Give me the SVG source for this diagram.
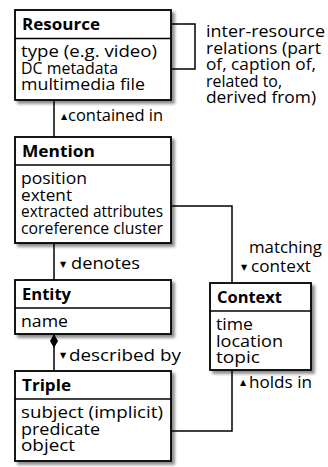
<svg xmlns="http://www.w3.org/2000/svg" width="328" height="467" viewBox="0 0 328 467">
<defs>
<filter id="sh" x="-10%" y="-10%" width="130%" height="130%">
<feDropShadow dx="3" dy="3" stdDeviation="1.8" flood-color="#000" flood-opacity="0.45"/>
</filter>
<style>
.box{fill:#fff;stroke:#000;stroke-width:1.8}
.sep{stroke:#000;stroke-width:1.5}
.t{font-family:'Open Sans','Noto Sans',sans-serif;font-size:15.5px;fill:#000}
.b{font-weight:bold}
.tri{font-family:'DejaVu Sans',sans-serif;font-size:8px}
.conn{fill:none;stroke:#000;stroke-width:1.5}
</style>
</defs>
<rect width="328" height="467" fill="#fff"/>
<g id="connectors">
<path class="conn" d="M171,24 H195 V69 H171"/>
<path class="conn" d="M54,100 V137"/>
<path class="conn" d="M54,243 V280"/>
<path class="conn" d="M54,334 V371"/>
<polygon points="54,334 58,341 54,348 50,341" fill="#000"/>
<path class="conn" d="M171,206 H232 V283"/>
<path class="conn" d="M232,370 V431 H171"/>
<text class="t"><tspan class="tri" x="61" y="119">▲</tspan><tspan x="68" y="121" textLength="95" lengthAdjust="spacingAndGlyphs">contained in</tspan></text>
<text class="t"><tspan class="tri" x="60" y="267">▼</tspan><tspan x="71" y="269" textLength="69" lengthAdjust="spacingAndGlyphs">denotes</tspan></text>
<text class="t"><tspan class="tri" x="60" y="358">▼</tspan><tspan x="69" y="361" textLength="112" lengthAdjust="spacingAndGlyphs">described by</tspan></text>
<text class="t" x="249" y="253" textLength="73" lengthAdjust="spacingAndGlyphs">matching</text>
<text class="t"><tspan class="tri" x="241" y="270">▼</tspan><tspan x="251" y="272" textLength="60" lengthAdjust="spacingAndGlyphs">context</tspan></text>
<text class="t"><tspan class="tri" x="240" y="385">▲</tspan><tspan x="249" y="388" textLength="63" lengthAdjust="spacingAndGlyphs">holds in</tspan></text>
<g class="t">
<text x="206" y="37" textLength="119" lengthAdjust="spacingAndGlyphs">inter-resource</text>
<text x="206" y="53.5" textLength="115" lengthAdjust="spacingAndGlyphs">relations (part</text>
<text x="206" y="70" textLength="110" lengthAdjust="spacingAndGlyphs">of, caption of,</text>
<text x="206" y="86.5" textLength="76" lengthAdjust="spacingAndGlyphs">related to,</text>
<text x="206" y="103" textLength="110" lengthAdjust="spacingAndGlyphs">derived from)</text>
</g>
</g>
<g id="resource">
<rect class="box" x="15" y="10" width="156" height="90" filter="url(#sh)"/>
<line class="sep" x1="15" y1="38.5" x2="171" y2="38.5"/>
<text class="t b" x="22" y="30" textLength="78" lengthAdjust="spacingAndGlyphs">Resource</text>
<text class="t" x="21" y="57" textLength="136" lengthAdjust="spacingAndGlyphs">type (e.g. video)</text>
<text class="t" x="21" y="73.5" textLength="97" lengthAdjust="spacingAndGlyphs">DC metadata</text>
<text class="t" x="21" y="90" textLength="124" lengthAdjust="spacingAndGlyphs">multimedia file</text>
</g>
<g id="mention">
<rect class="box" x="15" y="137" width="156" height="106" filter="url(#sh)"/>
<line class="sep" x1="15" y1="165" x2="171" y2="165"/>
<text class="t b" x="22" y="157" textLength="73" lengthAdjust="spacingAndGlyphs">Mention</text>
<text class="t" x="21" y="184" textLength="66" lengthAdjust="spacingAndGlyphs">position</text>
<text class="t" x="21" y="200.5" textLength="51" lengthAdjust="spacingAndGlyphs">extent</text>
<text class="t" x="21" y="217" textLength="142" lengthAdjust="spacingAndGlyphs">extracted attributes</text>
<text class="t" x="21" y="233.5" textLength="142" lengthAdjust="spacingAndGlyphs">coreference cluster</text>
</g>
<g id="entity">
<rect class="box" x="15" y="280" width="156" height="54" filter="url(#sh)"/>
<line class="sep" x1="15" y1="308" x2="171" y2="308"/>
<text class="t b" x="22" y="300" textLength="49" lengthAdjust="spacingAndGlyphs">Entity</text>
<text class="t" x="21" y="327" textLength="47" lengthAdjust="spacingAndGlyphs">name</text>
</g>
<g id="triple">
<rect class="box" x="15" y="371" width="156" height="90" filter="url(#sh)"/>
<line class="sep" x1="15" y1="399" x2="171" y2="399"/>
<text class="t b" x="22" y="391" textLength="49" lengthAdjust="spacingAndGlyphs">Triple</text>
<text class="t" x="21" y="418" textLength="142" lengthAdjust="spacingAndGlyphs">subject (implicit)</text>
<text class="t" x="21" y="434.5" textLength="79" lengthAdjust="spacingAndGlyphs">predicate</text>
<text class="t" x="21" y="451" textLength="54" lengthAdjust="spacingAndGlyphs">object</text>
</g>
<g id="context">
<rect class="box" x="210" y="283" width="101" height="87" filter="url(#sh)"/>
<line class="sep" x1="210" y1="311" x2="311" y2="311"/>
<text class="t b" x="217" y="303" textLength="65" lengthAdjust="spacingAndGlyphs">Context</text>
<text class="t" x="216" y="330" textLength="37" lengthAdjust="spacingAndGlyphs">time</text>
<text class="t" x="216" y="346.5" textLength="67" lengthAdjust="spacingAndGlyphs">location</text>
<text class="t" x="216" y="363" textLength="44" lengthAdjust="spacingAndGlyphs">topic</text>
</g>
</svg>
